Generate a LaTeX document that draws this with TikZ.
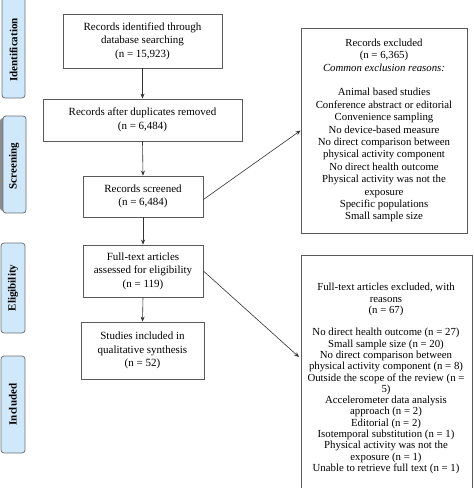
\documentclass[tikz,border=0pt]{standalone}
\usepackage{fontspec}
\setmainfont{Liberation Serif}
\usetikzlibrary{arrows.meta}
\definecolor{sidefill}{HTML}{CFE8FA}
\definecolor{sideline}{HTML}{6E7276}
\definecolor{boxline}{HTML}{5A5A5A}
\begin{document}
\begin{tikzpicture}[x=1pt,y=-1pt,
  mainbox/.style={draw=boxline,line width=0.8pt,align=center,inner sep=0pt,
    font=\fontsize{11}{13.5}\selectfont},
  sidebox/.style={draw=sideline,fill=sidefill,line width=0.8pt,rounded corners=3pt,inner sep=0pt},
  sidetext/.style={rotate=90,font=\fontsize{11}{13}\selectfont\bfseries},
  conn/.style={draw=black!80,line width=0.6pt,-{Stealth[length=5pt,width=4pt]}}]
\useasboundingbox (0,0) rectangle (474,488);
\fill[white] (0,0) rectangle (474,488);

% side labels
\node[sidebox,minimum width=23pt,minimum height=102pt] (sid) at (13.5,47) {};
\node[sidetext] (sidt) at (13.5,50) {Identification};
\fill[black!45,rounded corners=3pt] (0,118) rectangle (8,211);
\node[sidebox,minimum width=23pt,minimum height=97pt] (ssc) at (14.5,164.5) {};
\node[sidetext] (ssct) at (14,166) {Screening};
\node[sidebox,minimum width=24pt,minimum height=90pt] (sel) at (13,288) {};
\node[sidetext] (selt) at (13,288) {Eligibility};
\node[sidebox,minimum width=24pt,minimum height=97pt] (sin) at (13,404.5) {};
\node[sidetext] (sint) at (13,404.5) {Included};

% main column
\node[mainbox,minimum width=159pt,minimum height=54pt] (b1) at (142.5,41)
  {Records identified through\\database searching\\(n = 15,923)};
\node[mainbox,minimum width=199pt,minimum height=42pt] (b2) at (142.5,120)
  {Records after duplicates removed\\(n = 6,484)};
\node[mainbox,minimum width=120pt,minimum height=41pt] (b3) at (143,196.5)
  {Records screened\\(n = 6,484)};
\node[mainbox,minimum width=120pt,minimum height=52pt] (b4) at (143,271)
  {Full-text articles\\assessed for eligibility\\(n = 119)};
\node[mainbox,minimum width=123pt,minimum height=57pt] (b5) at (142.5,350.5)
  {Studies included in\\qualitative synthesis\\(n = 52)};

% right boxes
\node[draw=boxline,line width=0.8pt,align=center,inner sep=0pt,
  minimum width=166pt,minimum height=205pt,
  font=\fontsize{10.8}{12.4}\selectfont] (r1) at (384,130.5)
  {Records excluded\\(n = 6,365)\\\textit{Common exclusion reasons:}\\[12.4pt]
   Animal based studies\\Conference abstract or editorial\\Convenience sampling\\
   No device-based measure\\No direct comparison between\\physical activity component\\
   No direct health outcome\\Physical activity was not the\\exposure\\
   Specific populations\\Small sample size};

\node[draw=boxline,line width=0.8pt,inner sep=0pt,minimum width=171pt,
  minimum height=245pt,anchor=north west] (r2) at (301,255) {};
\node[align=center,inner sep=0pt,anchor=north,
  font=\fontsize{10.8}{11.3}\selectfont] (r2t) at (386,283)
  {Full-text articles excluded, with\\reasons\\(n = 67)\\[11.3pt]
   No direct health outcome (n = 27)\\Small sample size (n = 20)\\
   No direct comparison between\\physical activity component (n = 8)\\
   Outside the scope of the review (n =\\5)\\Accelerometer data analysis\\
   approach (n = 2)\\Editorial (n = 2)\\Isotemporal substitution (n = 1)\\
   Physical activity was not the\\exposure (n = 1)\\Unable to retrieve full text (n = 1)};

\coordinate (t2) at (299,357);

% connectors
\draw[conn] (b1.south) -- (b2.north);
\draw[conn] (b2.south) -- (b3.north);
\draw[conn] (b3.south) -- (b4.north);
\draw[conn] (b4.south) -- (b5.north);
\draw[conn] ([yshift=-3pt]b3.east) -- (r1.west);
\draw[conn] (b4.east) -- (t2);
\end{tikzpicture}
\end{document}
